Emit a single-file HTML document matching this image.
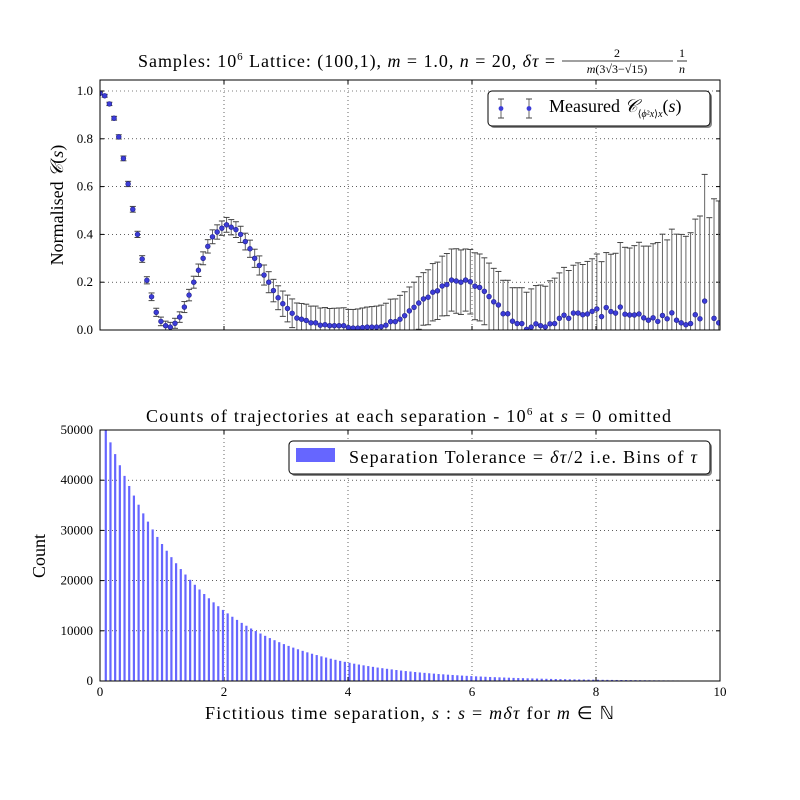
<!DOCTYPE html>
<html><head><meta charset="utf-8"><style>
body{margin:0;background:#fff}
svg{display:block;font-family:"Liberation Serif",serif}
</style></head><body>
<svg id="chart" width="800" height="800" viewBox="0 0 800 800">
<rect width="800" height="800" fill="#fff"/>
<g id="topPanel"></g>
<g id="botPanel"></g>
<text x="138" y="67" font-size="18" textLength="417" lengthAdjust="spacing">Samples: 10<tspan font-size="11" dy="-7">6</tspan><tspan dy="7"> Lattice: (100,1), </tspan><tspan font-style="italic">m</tspan> = 1.0, <tspan font-style="italic">n</tspan> = 20, <tspan font-style="italic">δτ</tspan> =</text>
<g font-size="12">
<text x="617" y="57" text-anchor="middle">2</text>
<line x1="562" y1="61" x2="673" y2="61" stroke="#000" stroke-width="0.8"/>
<text x="617" y="73" text-anchor="middle" font-style="italic">m<tspan font-style="normal">(3√3−√15)</tspan></text>
<text x="682" y="57" text-anchor="middle">1</text>
<line x1="677" y1="61" x2="687" y2="61" stroke="#000" stroke-width="0.8"/>
<text x="682" y="73" text-anchor="middle" font-style="italic">n</text>
</g>
<text x="146" y="422" font-size="18" textLength="525" lengthAdjust="spacing">Counts of trajectories at each separation - 10<tspan font-size="11" dy="-7">6</tspan><tspan dy="7"> at </tspan><tspan font-style="italic">s</tspan> = 0 omitted</text>
<text transform="translate(63,205) rotate(-90)" font-size="18" text-anchor="middle">Normalised <tspan font-style="italic">𝒞</tspan>(<tspan font-style="italic">s</tspan>)</text>
<text transform="translate(45,556) rotate(-90)" font-size="18" text-anchor="middle">Count</text>
<text x="205" y="719" font-size="18" textLength="409" lengthAdjust="spacing">Fictitious time separation, <tspan font-style="italic">s</tspan> : <tspan font-style="italic">s</tspan> = <tspan font-style="italic">mδτ</tspan> for <tspan font-style="italic">m</tspan> ∈ ℕ</text>
</svg>
<script>
const dTau = 0.0756;
const corrValues = [0.99,0.98,0.946,0.886,0.808,0.718,0.611,0.505,0.40,0.297,
0.208,0.139,0.074,0.036,0.018,0.012,0.028,0.054,0.096,0.146,
0.20,0.25,0.30,0.35,0.39,0.41,0.426,0.44,0.43,0.42,
0.40,0.37,0.34,0.30,0.27,0.23,0.20,0.165,0.135,0.11,
0.09,0.07,0.05,0.045,0.04,0.03,0.03,0.02,0.022,0.018,
0.018,0.018,0.018,0.01,0.008,0.008,0.01,0.012,0.012,0.012,
0.014,0.02,0.035,0.035,0.045,0.06,0.08,0.095,
0.113,0.13,0.137,0.158,0.164,0.184,0.19,0.209,0.205,0.20,0.209,0.202,0.183,0.178,0.162,0.14,0.118,0.105,0.068,0.068,0.037,0.027,0.027,0.003,0.012,0.026,0.018,0.013,0.026,0.027,0.049,0.062,0.049,0.071,0.071,0.064,0.067,0.078,0.088,0.056,0.094,0.077,0.071,0.096,0.066,0.063,0.063,0.067,0.051,0.041,0.051,0.036,0.061,0.047,0.072,0.041,0.03,0.022,0.027,0.064,0.047,0.121,-0.01,0.049,0.03];
const corrErrors = [0.005,0.006,0.007,0.008,0.009,0.01,0.011,0.012,0.013,0.014,
0.015,0.016,0.017,0.018,0.019,0.02,0.021,0.022,0.023,0.024,
0.025,0.026,0.027,0.028,0.029,0.03,0.03,0.031,0.032,0.033,
0.034,0.035,0.036,0.038,0.04,0.042,0.044,0.047,0.05,0.053,
0.056,0.06,0.063,0.066,0.068,0.07,0.07,0.072,0.072,0.072,
0.073,0.074,0.075,0.076,0.078,0.08,0.082,0.084,0.086,0.088,
0.09,0.092,0.094,0.095,0.1,0.1,0.1,0.105,0.11,0.11,
0.115,0.12,0.12,0.125,0.13,0.13,0.135,0.135,0.13,0.135,
0.14,0.14,0.14,0.14,0.14,0.14,0.14,0.14,0.14,0.15,
0.15,0.155,0.16,0.16,0.17,0.17,0.18,0.19,0.19,0.2,
0.2,0.2,0.21,0.21,0.22,0.22,0.23,0.23,0.23,0.24,
0.25,0.27,0.28,0.28,0.29,0.3,0.3,0.31,0.31,0.33,
0.34,0.33,0.35,0.36,0.37,0.37,0.38,0.40,0.43,0.53,
0.48,0.5,0.51];
const counts = [50000,47540,45200,42980,40860,38850,36940,35120,33390,31750,30190,28700,27290,25950,24670,23460,22300,21210,20160,19170,18230,17330,16480,15670,14900,14160,13470,12800,12170,11580,11010,10460,9950,9460,9000,8550,8130,7730,7350,6990,6650,6320,6010,5710,5430,5170,4910,4670,4440,4220,4010,3820,3630,3450,3280,3120,2970,2820,2680,2550,2430,2310,2190,2080,1980,1890,1790,1700,1620,1540,1470,1390,1330,1260,1200,1140,1080,1030,980,930,890,840,800,760,730,690,660,620,590,565,537,510,485,461,439,417,397,377,359,341,324,308,293,279,265,252,240,228,217,206,196,186,177,169,160,152,145,138,131,125,118,113,107,102,97,92];
const xTicks = [0,2,4,6,8,10];
const topYTicks = [0.0,0.2,0.4,0.6,0.8,1.0];
const botYTicks = [0,10000,20000,30000,40000,50000];

(function(){
const NS="http://www.w3.org/2000/svg";
function mk(parent,tag,attrs){const e=document.createElementNS(NS,tag);for(const k in attrs)e.setAttribute(k,attrs[k]);parent.appendChild(e);return e;}
const L=100,R=720;
const xs=v=>L+(v/10)*(R-L);
const T1=80,B1=330; const y1=v=>B1-(v/1.046)*(B1-T1);
const T2=430,B2=681; const y2=v=>B2-(v/50000)*(B2-T2);
const gTop=document.getElementById('topPanel'), gBot=document.getElementById('botPanel');

function frame(g,T,B,yt,yf,fmt,xlabels){
  for(const t of xTicks){ if(t>0&&t<10){const l=mk(g,'line',{x1:xs(t),x2:xs(t),y1:T,y2:B,stroke:'#000','stroke-width':0.6,'stroke-dasharray':'1,3'});
    
    }
    mk(g,'line',{x1:xs(t),x2:xs(t),y1:B,y2:B-4,stroke:'#000'});mk(g,'line',{x1:xs(t),x2:xs(t),y1:T,y2:T+4,stroke:'#000'});
    if(xlabels){const tx=mk(g,'text',{x:xs(t),y:B+15,'font-size':13,'text-anchor':'middle'});tx.textContent=t;
    
    }
  }
  for(const t of yt){const y=yf(t);
    if(y>T+1&&y<B-1){const l=mk(g,'line',{x1:L,x2:R,y1:y,y2:y,stroke:'#000','stroke-width':0.6,'stroke-dasharray':'1,3'});
    
    }
    mk(g,'line',{x1:L,x2:L+4,y1:y,y2:y,stroke:'#000'});mk(g,'line',{x1:R,x2:R-4,y1:y,y2:y,stroke:'#000'});
    const tx=mk(g,'text',{x:L-7,y:y+4,'font-size':13,'text-anchor':'end'});tx.textContent=fmt(t);
    
    
  }
}
frame(gTop,T1,B1,topYTicks,y1,v=>v.toFixed(1),false);
frame(gBot,T2,B2,botYTicks,y2,v=>String(v),true);

const clip=mk(gTop,'clipPath',{id:'c1'});mk(clip,'rect',{x:L,y:T1,width:R-L,height:B1-T1});
const eg=mk(gTop,'g',{'clip-path':'url(#c1)'});
corrValues.forEach((v,k)=>{const x=xs(k*dTau),e=corrErrors[k];
  const ya=y1(v+e),yb=y1(v-e);
  const l=mk(eg,'line',{x1:x,x2:x,y1:ya,y2:yb,stroke:'#666','stroke-width':1});
  
  
  mk(eg,'line',{x1:x-3,x2:x+3,y1:ya,y2:ya,stroke:'#444','stroke-width':1});
  mk(eg,'line',{x1:x-3,x2:x+3,y1:yb,y2:yb,stroke:'#444','stroke-width':1});
});
corrValues.forEach((v,k)=>{const c=mk(eg,'circle',{cx:xs(k*dTau),cy:y1(v),r:2.4,fill:'#3c3cd8',stroke:'#222288','stroke-width':0.6});
  
  
});
counts.forEach((v,i)=>{const x=xs((i+1)*dTau);
  const r=mk(gBot,'rect',{x:x,y:y2(v),width:2.2,height:B2-y2(v),fill:'#6666ff'});
  
  
});
mk(gTop,'rect',{x:L,y:T1,width:R-L,height:B1-T1,fill:'none',stroke:'#000','stroke-width':1});
mk(gBot,'rect',{x:L,y:T2,width:R-L,height:B2-T2,fill:'none',stroke:'#000','stroke-width':1});

function legend(g,x,y,w,h){mk(g,'rect',{x:x+2,y:y+2,width:w,height:h,rx:4,fill:'#888'});
  return mk(g,'rect',{x:x,y:y,width:w,height:h,rx:4,fill:'#fff',stroke:'#000','stroke-width':1});}
const lg1=mk(gTop,'g',{});


legend(lg1,488,91,222,35);
for(const lx of [501,529]){mk(lg1,'line',{x1:lx,x2:lx,y1:99,y2:118,stroke:'#666'});mk(lg1,'line',{x1:lx-3,x2:lx+3,y1:99,y2:99,stroke:'#444'});mk(lg1,'line',{x1:lx-3,x2:lx+3,y1:118,y2:118,stroke:'#444'});mk(lg1,'circle',{cx:lx,cy:108.5,r:2.4,fill:'#3c3cd8'});}
const t1=mk(lg1,'text',{x:549,y:112,'font-size':18});
t1.innerHTML='Measured <tspan font-style="italic">𝒞</tspan><tspan font-size="10" dy="5">⟨<tspan font-style="italic">ϕ</tspan>²<tspan font-style="italic">x</tspan>⟩<tspan font-style="italic">x</tspan></tspan><tspan dy="-5">(<tspan font-style="italic">s</tspan>)</tspan>';
const lg2=mk(gBot,'g',{});


legend(lg2,289,441,421,33);
mk(lg2,'rect',{x:296,y:448,width:39,height:14,fill:'#6666ff'});
const t2=mk(lg2,'text',{x:349,y:463,'font-size':18,textLength:348,lengthAdjust:'spacing'});
t2.innerHTML='Separation Tolerance = <tspan font-style="italic">δτ</tspan>/2 i.e. Bins of <tspan font-style="italic">τ</tspan>';
})();
</script>
</body></html>
